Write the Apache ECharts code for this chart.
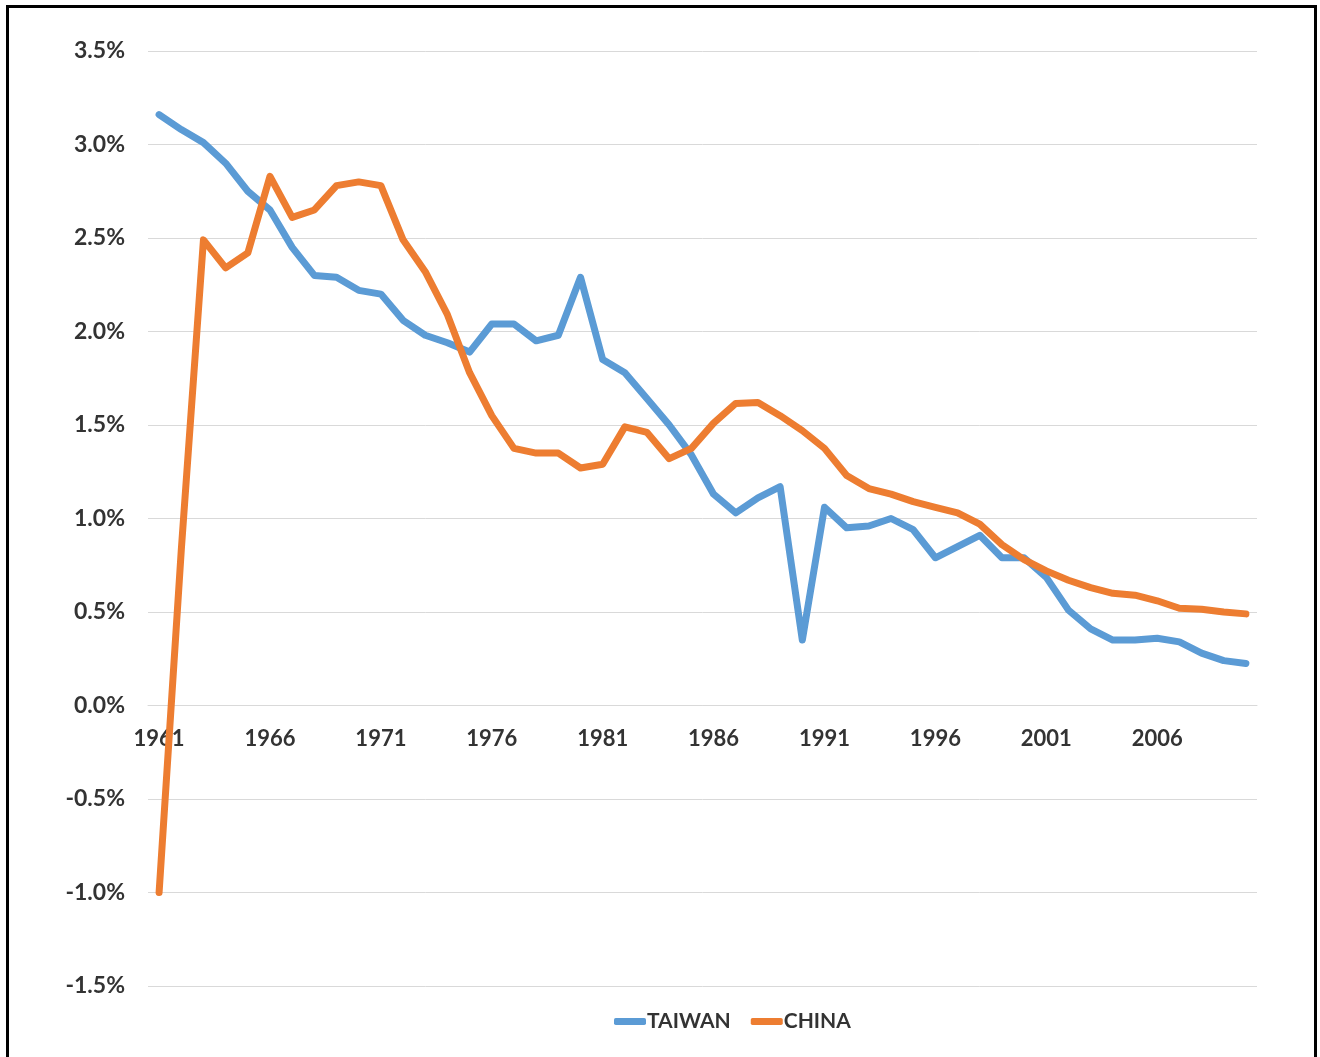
<!DOCTYPE html>
<html>
<head>
<meta charset="utf-8">
<style>
  html, body { margin: 0; padding: 0; background: #fff; }
  #chart { position: absolute; left: 0; top: 0; width: 1320px; height: 1057px; }
  #frame { position: absolute; left: 6px; top: 5px; width: 1305px; height: 1060px; border: 3px solid #000; pointer-events: none; }
</style>
<script src="https://cdn.jsdelivr.net/npm/echarts@6/dist/echarts.min.js"></script>
</head>
<body>
<div id="chart"></div>
<div id="frame"></div>
<script>
// years 1961-2010
var years = [];
for (var y = 1961; y <= 2010; y++) years.push(String(y));

// growth rate in %
var taiwan = [3.16, 3.08, 3.01, 2.90, 2.75, 2.65, 2.45, 2.30, 2.29, 2.22,
              2.20, 2.06, 1.98, 1.94, 1.89, 2.04, 2.04, 1.95, 1.98, 2.29,
              1.85, 1.78, 1.64, 1.50, 1.34, 1.13, 1.03, 1.11, 1.17, 0.35,
              1.06, 0.95, 0.96, 1.00, 0.94, 0.79, 0.85, 0.91, 0.79, 0.79,
              0.685, 0.51, 0.41, 0.35, 0.35, 0.36, 0.34, 0.28, 0.24, 0.225];

var china = [-1.00, 0.83, 2.49, 2.34, 2.42, 2.83, 2.61, 2.65, 2.78, 2.80,
             2.78, 2.49, 2.32, 2.09, 1.78, 1.55, 1.375, 1.35, 1.35, 1.27,
             1.29, 1.49, 1.46, 1.32, 1.375, 1.51, 1.615, 1.62, 1.55, 1.47,
             1.375, 1.23, 1.16, 1.13, 1.09, 1.06, 1.03, 0.97, 0.86, 0.78,
             0.72, 0.67, 0.63, 0.60, 0.59, 0.56, 0.52, 0.515, 0.50, 0.49];

var myChart = echarts.init(document.getElementById('chart'));

var fontFam = 'Lato, "Open Sans", sans-serif';

var option = {
    animation: false,
    backgroundColor: '#fff',
    grid: { left: 148, right: 63, top: 51, bottom: 71, containLabel: false },
    legend: {
        data: ['TAIWAN', 'CHINA'],
        left: 609,
        top: 1006,
        icon: 'roundRect',
        itemWidth: 32,
        itemHeight: 7,
        itemGap: 20,
        textStyle: { fontFamily: fontFam, fontWeight: 'bold', fontSize: 21, color: '#333', padding: [0, 0, 0, -4] }
    },
    xAxis: {
        type: 'category',
        data: years,
        boundaryGap: true,
        offset: -281,
        axisLine: { onZero: false, lineStyle: { color: '#D9D9D9', width: 1 } },
        axisTick: { show: false },
        axisLabel: {
            interval: 4,
            margin: 23,
            fontFamily: fontFam, fontWeight: 'bold', fontSize: 22, color: '#333'
        },
        splitLine: { show: false }
    },
    yAxis: {
        type: 'value',
        min: -1.5,
        max: 3.5,
        interval: 0.5,
        axisLine: { show: false },
        axisTick: { show: false },
        axisLabel: {
            margin: 23,
            fontFamily: fontFam, fontWeight: 'bold', fontSize: 23, color: '#333',
            formatter: function (v) { return v.toFixed(1) + '%'; }
        },
        splitLine: { lineStyle: { color: '#D9D9D9', width: 1 } }
    },
    series: [
        {
            name: 'TAIWAN',
            type: 'line',
            data: taiwan,
            symbol: 'none',
            color: '#5B9BD5',
            lineStyle: { width: 7, color: '#5B9BD5', cap: 'round', join: 'round' }
        },
        {
            name: 'CHINA',
            type: 'line',
            data: china,
            symbol: 'none',
            color: '#ED7D31',
            lineStyle: { width: 7, color: '#ED7D31', cap: 'round', join: 'round' }
        }
    ]
};

myChart.setOption(option);
</script>
</body>
</html>
